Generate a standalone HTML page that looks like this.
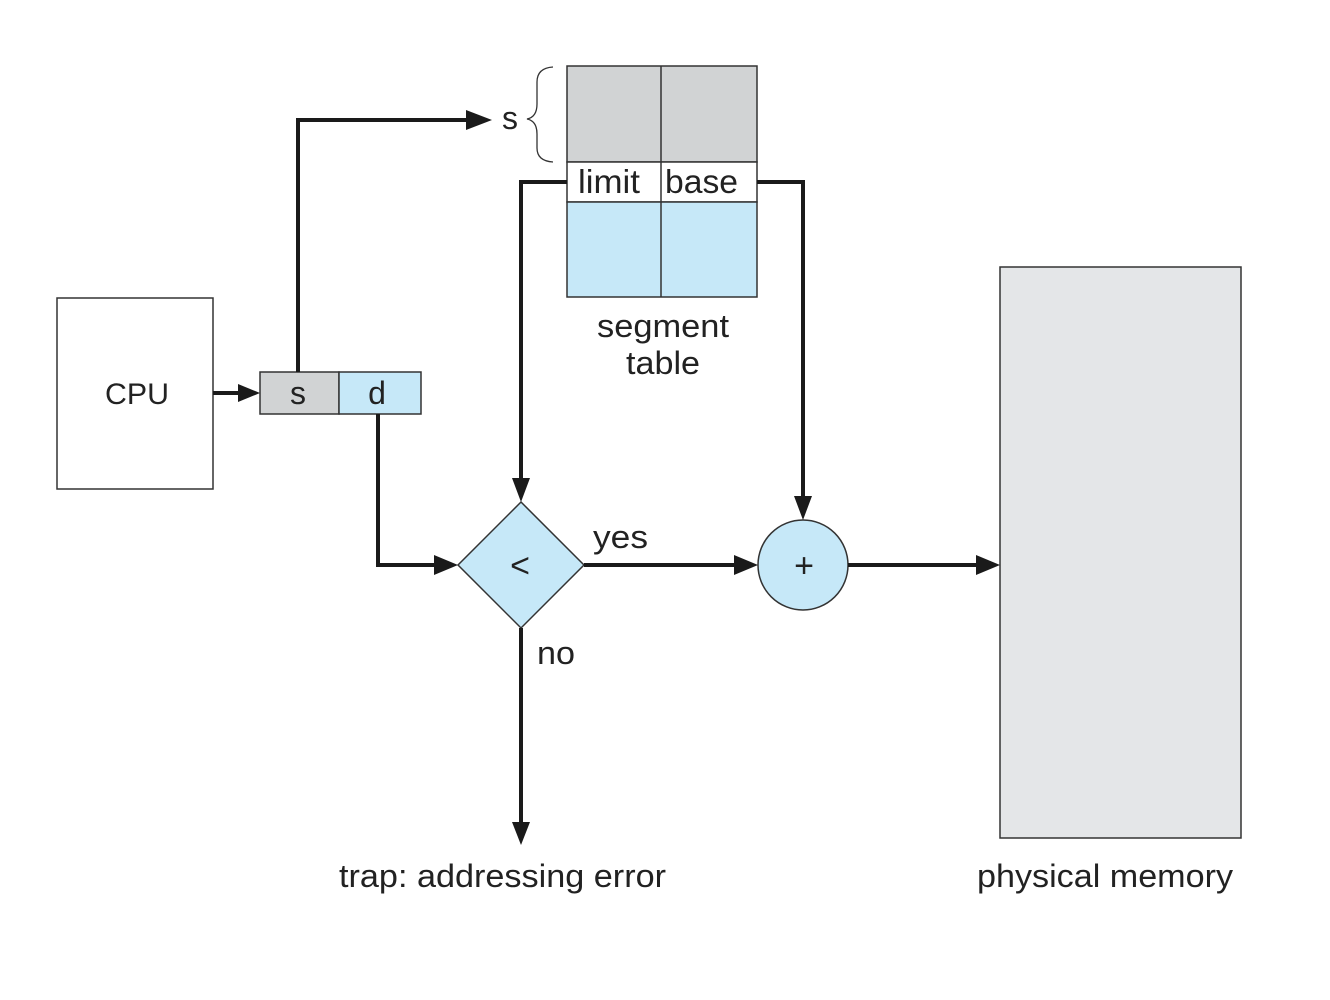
<!DOCTYPE html>
<html><head><meta charset="utf-8"><style>
html,body{margin:0;padding:0;background:#fff;}
svg{display:block;}
text{font-family:"Liberation Sans",sans-serif;fill:#222;}
</style></head><body>
<svg width="1330" height="1000" viewBox="0 0 1330 1000" xmlns="http://www.w3.org/2000/svg">
<!-- CPU -->
<rect x="57" y="298" width="156" height="191" fill="#fff" stroke="#333" stroke-width="1.5"/>
<text x="137" y="404" font-size="30" text-anchor="middle" textLength="64" lengthAdjust="spacingAndGlyphs">CPU</text>
<!-- s d -->
<rect x="260" y="372" width="79" height="42" fill="#d1d3d4" stroke="#333" stroke-width="1.5"/>
<rect x="339" y="372" width="82" height="42" fill="#c6e8f8" stroke="#333" stroke-width="1.5"/>
<text x="298" y="404" font-size="32" text-anchor="middle">s</text>
<text x="377" y="404" font-size="32" text-anchor="middle">d</text>
<!-- segment table -->
<rect x="567" y="66" width="190" height="96" fill="#d1d3d4" stroke="#333" stroke-width="1.5"/>
<rect x="567" y="162" width="190" height="40" fill="#fff" stroke="#333" stroke-width="1.5"/>
<rect x="567" y="202" width="190" height="95" fill="#c6e8f8" stroke="#333" stroke-width="1.5"/>
<line x1="661" y1="66" x2="661" y2="297" stroke="#333" stroke-width="1.5"/>
<text x="578" y="193" font-size="33" textLength="62" lengthAdjust="spacingAndGlyphs">limit</text>
<text x="665" y="193" font-size="33" textLength="73" lengthAdjust="spacingAndGlyphs">base</text>
<text x="663" y="337" font-size="32" text-anchor="middle" textLength="132" lengthAdjust="spacingAndGlyphs">segment</text>
<text x="663" y="374" font-size="32" text-anchor="middle" textLength="74" lengthAdjust="spacingAndGlyphs">table</text>
<!-- brace -->
<path d="M553,67 Q537,68 537,82 L537,104 Q537,117 527,119 Q537,121 537,134 L537,148 Q537,161 553,162" fill="none" stroke="#333" stroke-width="1.3"/>
<text x="510" y="129" font-size="32" text-anchor="middle">s</text>
<!-- memory -->
<rect x="1000" y="267" width="241" height="571" fill="#e4e6e8" stroke="#333" stroke-width="1.5"/>
<!-- diamond -->
<polygon points="521,502 584,565 521,628 458,565" fill="#c6e8f8" stroke="#333" stroke-width="1.5"/>
<text x="520" y="577" font-size="34" text-anchor="middle">&lt;</text>
<!-- circle -->
<circle cx="803" cy="565" r="45" fill="#c6e8f8" stroke="#333" stroke-width="1.5"/>
<text x="804" y="577" font-size="34" text-anchor="middle">+</text>
<!-- lines -->
<g fill="none" stroke="#1a1a1a" stroke-width="4">
<line x1="213" y1="393" x2="240" y2="393"/>
<polyline points="298,372 298,120 470,120"/>
<polyline points="567,182 521,182 521,480"/>
<polyline points="757,182 803,182 803,498"/>
<polyline points="378,414 378,565 438,565"/>
<line x1="584" y1="565" x2="738" y2="565"/>
<line x1="848" y1="565" x2="980" y2="565"/>
<line x1="521" y1="628" x2="521" y2="825"/>
</g>
<g fill="#1a1a1a">
<polygon points="238,384 260,393 238,402"/>
<polygon points="466,110 492,120 466,130"/>
<polygon points="512,478 521,502 530,478"/>
<polygon points="794,496 803,520 812,496"/>
<polygon points="434,555 458,565 434,575"/>
<polygon points="734,555 758,565 734,575"/>
<polygon points="976,555 1000,565 976,575"/>
<polygon points="512,822 521,845 530,822"/>
</g>
<text x="593" y="548" font-size="32" textLength="55" lengthAdjust="spacingAndGlyphs">yes</text>
<text x="537" y="664" font-size="32" textLength="38" lengthAdjust="spacingAndGlyphs">no</text>
<text x="339" y="887" font-size="32" textLength="327" lengthAdjust="spacingAndGlyphs">trap: addressing error</text>
<text x="977" y="887" font-size="32" textLength="256" lengthAdjust="spacingAndGlyphs">physical memory</text>
</svg>
</body></html>
